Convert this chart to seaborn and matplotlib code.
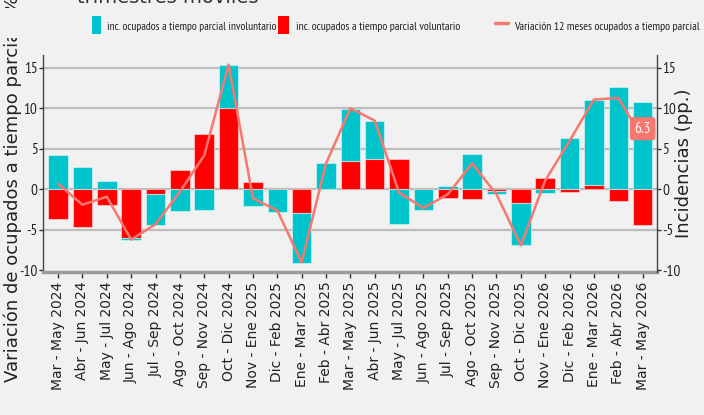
import matplotlib
matplotlib.use("Agg")
import matplotlib.pyplot as plt
from matplotlib.patches import Patch, Rectangle
from matplotlib.lines import Line2D
import seaborn as sns
import numpy as np
import pandas as pd

# ------------------------------------- DATA -------------------------------------
periodos = ["Mar - May 2024", "Abr - Jun 2024", "May - Jul 2024", "Jun - Ago 2024",
            "Jul - Sep 2024", "Ago - Oct 2024", "Sep - Nov 2024", "Oct - Dic 2024",
            "Nov - Ene 2025", "Dic - Feb 2025", "Ene - Mar 2025", "Feb - Abr 2025",
            "Mar - May 2025", "Abr - Jun 2025", "May - Jul 2025", "Jun - Ago 2025",
            "Jul - Sep 2025", "Ago - Oct 2025", "Sep - Nov 2025", "Oct - Dic 2025",
            "Nov - Ene 2026", "Dic - Feb 2026", "Ene - Mar 2026", "Feb - Abr 2026",
            "Mar - May 2026"]

# incidencia ocupados a tiempo parcial voluntario (pp.)
voluntario = [-3.6, -4.7, -1.9, -6.0, -0.6, 2.4, 6.8, 10.1, 0.9, 0.2, -2.9, 0.05,
              3.5, 3.7, 3.8, 0.2, -1.0, -1.2, -0.25, -1.7, 1.45, -0.3, 0.55, -1.4, -4.4]

# incidencia ocupados a tiempo parcial involuntario (pp.)
involuntario = [4.3, 2.8, 1.0, -0.2, -3.75, -2.7, -2.6, 5.3, -2.0, -2.8, -6.15, 3.15,
                6.45, 4.8, -4.25, -2.5, 0.4, 4.35, -0.3, -5.2, -0.4, 6.3, 10.5, 12.7, 10.75]

# variacion 12 meses ocupados a tiempo parcial (%)
variacion = [0.7, -1.9, -0.9, -6.2, -4.3, -0.3, 4.2, 15.4, -1.1, -2.6, -9.0, 3.2,
             10.0, 8.5, -0.4, -2.3, -0.6, 3.2, -0.6, -6.9, 1.1, 6.0, 11.1, 11.3, 6.3]

yticks = [-10, -5, 0, 5, 10, 15]

# ------------------------------------- STYLE -------------------------------------
BG = '#f1f1f1'
CYAN = '#00c4cc'
RED = '#ff0000'
SALMON = '#f7786f'
NARROW = ['PT Sans Narrow', 'DejaVu Sans']

sns.set_style('white', {'axes.facecolor': BG, 'figure.facecolor': BG})
plt.rcParams['font.family'] = ['DejaVu Sans']

df = pd.DataFrame({'periodo': periodos, 'vol': voluntario,
                   'invol': involuntario, 'var': variacion})
df['x'] = np.arange(len(df))
# stack: voluntario first from zero, involuntario on top when same sign
df['bottom'] = np.where(np.sign(df['vol']) == np.sign(df['invol']), df['vol'], 0.0)

fig = plt.figure(figsize=(7.04, 4.15), dpi=100)
fig.patch.set_facecolor(BG)
ax = fig.add_axes([43/704, (415-272)/415, (657-43)/704, (272-55)/415])
ax.set_facecolor(BG)

# grid lines
for yv in yticks[1:]:
    ax.axhline(yv, color='#bdbdbd', lw=1.6, zorder=0)

edge = (1, 1, 1, 0.45)
ax.bar(df['x'], df['vol'], width=0.8, color=RED, edgecolor=edge, linewidth=0.8, zorder=2)
ax.bar(df['x'], df['invol'], width=0.8, bottom=df['bottom'], color=CYAN,
       edgecolor=edge, linewidth=0.8, zorder=2)

sns.lineplot(data=df, x='x', y='var', color=SALMON, lw=1.8, ax=ax, zorder=3)

# last value label
last = len(df) - 1
ax.annotate(f"{variacion[-1]:.1f}", (last, variacion[-1]), textcoords='offset points',
            xytext=(0, 7), ha='center', va='center', color='white', fontsize=11,
            family=NARROW, zorder=5,
            bbox=dict(boxstyle='round,pad=0.3,rounding_size=0.2', fc=SALMON, ec='none'))

ax.set_xlim(-0.62, len(df) - 1 + 0.59)
ax.set_ylim(-10.2, 16.6)
ax.set_yticks(yticks)
ax.set_yticklabels([str(v) for v in yticks], family=NARROW, fontsize=11)
ax.set_xticks(df['x'])
ax.set_xticklabels(periodos, rotation=90, fontsize=10, color='#222222')
ax.set_xlabel('')
ax.set_ylabel('')
ax.tick_params(axis='x', bottom=True, length=4, width=1, color='#333333', pad=3)
ax.tick_params(axis='y', left=True, length=3, width=1, color='#333333', pad=1,
               labelcolor='#222222')

for s in ['top', 'right']:
    ax.spines[s].set_visible(False)
ax.spines['left'].set_color('#444444')
ax.spines['left'].set_linewidth(1)
ax.spines['bottom'].set_color('#9a9a9a')
ax.spines['bottom'].set_linewidth(2.5)

# right axis
ax2 = ax.twinx()
ax2.set_ylim(ax.get_ylim())
ax2.set_yticks(yticks)
ax2.set_yticklabels([str(v) for v in yticks], family=NARROW, fontsize=11, color='#222222')
ax2.tick_params(axis='y', right=True, length=3, width=1, color='#333333', pad=1)
for s in ['top', 'left', 'bottom']:
    ax2.spines[s].set_visible(False)
ax2.spines['right'].set_color('#444444')
ax2.spines['right'].set_linewidth(1)
fig.text(684/704, (415-163)/415, 'Incidencias (pp.)', rotation=90, ha='center',
         va='center', fontsize=13, color='#222222')

# left label and title (partly out of view, as in the original)
fig.text(13/704, (415-382)/415, 'Variación de ocupados a tiempo parcial (%)',
         rotation=90, ha='center', va='bottom', fontsize=13, color='#222222', zorder=1)
fig.text(168/704, (415-3)/415, 'trimestres móviles', ha='center', va='baseline',
         fontsize=14, color='#333333', zorder=1)

# legend band
fig.add_artist(Rectangle((0, 1-38/415), 1, 30/415, transform=fig.transFigure,
                         facecolor=BG, edgecolor='none', zorder=4))

# (left px, handle, text, handle length, text width px)
legend_items = [
    (92, Patch(facecolor=CYAN, edgecolor='none'), 'inc. ocupados a tiempo parcial involuntario', 0.6, 170),
    (278, Patch(facecolor=RED, edgecolor='none'), 'inc. ocupados a tiempo parcial voluntario', 0.75, 164),
    (495, Line2D([], [], color=SALMON, lw=2.5), 'Variación 12 meses ocupados a tiempo parcial', 0.85, 185),
]
legends = []
for xpos, handle, text, hl, target in legend_items:
    leg = fig.legend(handles=[handle], labels=[text], loc='center left',
                     bbox_to_anchor=(xpos/704, 1-25/415), frameon=False,
                     borderpad=0, borderaxespad=0, handlelength=hl, handleheight=1.4,
                     handletextpad=0.4, prop={'family': NARROW, 'size': 11})
    leg.set_zorder(6)
    legends.append((leg, target))

# fit the legend texts to the widths of the original
fig.canvas.draw()
renderer = fig.canvas.get_renderer()
for leg, target in legends:
    for t in leg.get_texts():
        t.set_color('#222222')
        w = t.get_window_extent(renderer).width
        t.set_fontsize(t.get_fontsize() * target / w)

fig.savefig('out.png', dpi=100, facecolor=BG)
